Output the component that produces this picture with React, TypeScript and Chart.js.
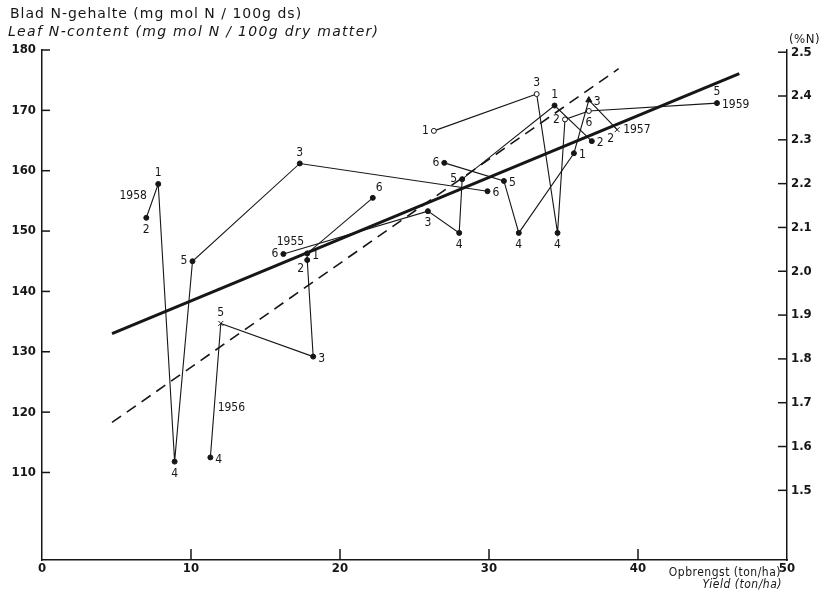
import React, { useEffect, useRef } from 'react';
import { Chart, registerables } from 'chart.js';

Chart.register(...registerables);

// ---------- DATA (points of each year, joined in order of increasing yield) ----------
const years = ['1955', '1956', '1957', '1958', '1959'];

const treat1955 = ['6', '3', '4', '5', '1', '2'];
const yield1955 = [16.2, 25.9, 28.0, 28.2, 34.4, 36.9];
const n1955 = [146.2, 153.3, 149.7, 158.6, 170.8, 164.9];

const treat1956 = ['4', '5', '3', '2', '1', '6'];
const yield1956 = [11.3, 12.0, 18.2, 17.8, 17.8, 22.2];
const n1956 = [112.5, 134.7, 129.2, 145.2, 146.3, 155.5];

const treat1957 = ['6', '5', '4', '1', '3', '2'];
const yield1957 = [27.0, 31.0, 32.0, 35.7, 36.7, 38.6];
const n1957 = [161.3, 158.3, 149.7, 162.9, 171.7, 166.8];

const treat1958 = ['2', '1', '4', '5', '3', '6'];
const yield1958 = [7.0, 7.8, 8.9, 10.1, 17.3, 29.9];
const n1958 = [152.2, 157.8, 111.8, 145.0, 161.2, 156.6];

const treat1959 = ['1', '3', '4', '2', '6', '5'];
const yield1959 = [26.3, 33.2, 34.6, 35.1, 36.7, 45.3];
const n1959 = [166.6, 172.7, 149.7, 168.5, 169.9, 171.2];

// regression lines (end points)
const solidFitYield = [4.7, 46.8];
const solidFitN = [133.0, 176.1];
const dashedFitYield = [4.7, 38.7];
const dashedFitN = [118.3, 176.9];

// axis ticks
const xTicks = [0, 10, 20, 30, 40, 50];
const leftTicks = [110, 120, 130, 140, 150, 160, 170, 180];
const rightTicks = [1.5, 1.6, 1.7, 1.8, 1.9, 2.0, 2.1, 2.2, 2.3, 2.4, 2.5];

// ---------- STYLE (markers and label placement) ----------
const marker1955 = ['dot', 'dot', 'dot', 'dot', 'dot', 'dot'];
const marker1956 = ['dot', 'cross', 'dot', 'dot', 'dot', 'dot'];
const marker1957 = ['dot', 'dot', 'dot', 'dot', 'tri', 'cross'];
const marker1958 = ['dot', 'dot', 'dot', 'dot', 'dot', 'dot'];
const marker1959 = ['open', 'open', 'dot', 'open', 'open', 'dot'];

const side1955 = ['l', 'b', 'b', 'l', 'a', 'r'];
const side1956 = ['r', 'a', 'r', 'bl', 'r', 'ar'];
const side1957 = ['l', 'r', 'b', 'r', 'r', 'bl'];
const side1958 = ['b', 'a', 'b', 'l', 'a', 'r'];
const side1959 = ['l', 'a', 'b', 'l', 'b', 'a'];

// year label: anchor index in the series, offset, alignment
const yearAnchor = [0, 0, 5, 1, 5];
const yearDx = [7, 21, 6, -25, 5];
const yearDy = [-12, -50, 0, 12, 2];
const yearAlign: CanvasTextAlign[] = ['center', 'center', 'left', 'center', 'left'];

const INK = '#161616';
const FONT = '"DejaVu Sans Condensed", "DejaVu Sans", sans-serif';
const WIDE = '"DejaVu Sans", sans-serif';

const seriesYield = [yield1955, yield1956, yield1957, yield1958, yield1959];
const seriesN = [n1955, n1956, n1957, n1958, n1959];
const seriesTreat = [treat1955, treat1956, treat1957, treat1958, treat1959];
const seriesMarker = [marker1955, marker1956, marker1957, marker1958, marker1959];
const seriesSide = [side1955, side1956, side1957, side1958, side1959];

function styleOf(m: string) {
  if (m === 'cross') return { ps: 'crossRot', r: 3.5, bg: INK };
  if (m === 'tri') return { ps: 'triangle', r: 3.5, bg: INK };
  if (m === 'open') return { ps: 'circle', r: 2.5, bg: '#ffffff' };
  return { ps: 'circle', r: 2.5, bg: INK };
}

const annotPlugin = {
  id: 'annot',
  afterDraw(chart: any) {
    const ctx: CanvasRenderingContext2D = chart.ctx;
    const xs = chart.scales.x;
    const ys = chart.scales.y;
    const y2 = chart.scales.y2;
    ctx.save();
    ctx.strokeStyle = INK;
    ctx.fillStyle = INK;
    ctx.lineWidth = 1.5;
    const seg = (a: number, b: number, c: number, d: number) => {
      ctx.beginPath();
      ctx.moveTo(a, b);
      ctx.lineTo(c, d);
      ctx.stroke();
    };
    // inward tick marks
    xTicks.forEach((v) => {
      if (v === xTicks[0] || v === xTicks[xTicks.length - 1]) return;
      const px = xs.getPixelForValue(v);
      seg(px, xs.top, px, xs.top - 11);
    });
    leftTicks.forEach((v) => {
      const py = ys.getPixelForValue(v);
      seg(ys.right, py, ys.right + 8, py);
    });
    rightTicks.forEach((v) => {
      const py = y2.getPixelForValue(v);
      seg(y2.left, py, y2.left - 9, py);
    });

    // point labels
    ctx.font = `12px ${FONT}`;
    seriesYield.forEach((yv, s) => {
      yv.forEach((xv, i) => {
        const px = xs.getPixelForValue(xv);
        const py = ys.getPixelForValue(seriesN[s][i]);
        const side = seriesSide[s][i];
        let dx = 0, dy = 0;
        let align: CanvasTextAlign = 'center';
        if (side === 'a') { dy = -11; }
        else if (side === 'b') { dy = 12; }
        else if (side === 'l') { dx = -5; align = 'right'; }
        else if (side === 'r') { dx = 5; align = 'left'; dy = 2; }
        else if (side === 'bl') { dx = -3; dy = 9; align = 'right'; }
        else if (side === 'ar') { dx = 3; dy = -10; align = 'left'; }
        ctx.textAlign = align;
        ctx.textBaseline = 'middle';
        ctx.fillText(seriesTreat[s][i], px + dx, py + dy);
      });
    });

    // year labels
    years.forEach((yr, s) => {
      const k = yearAnchor[s];
      const px = xs.getPixelForValue(seriesYield[s][k]);
      const py = ys.getPixelForValue(seriesN[s][k]);
      ctx.textAlign = yearAlign[s];
      ctx.textBaseline = 'middle';
      ctx.fillText(yr, px + yearDx[s], py + yearDy[s]);
    });

    // titles
    ctx.textBaseline = 'middle';
    ctx.textAlign = 'left';
    (ctx as any).letterSpacing = '1px';
    ctx.font = `14px ${WIDE}`;
    ctx.fillText('Blad N-gehalte (mg mol N / 100g ds)', 10, 14);
    (ctx as any).letterSpacing = '1.3px';
    ctx.font = `italic 14px ${WIDE}`;
    ctx.fillText('Leaf N-content (mg mol N / 100g dry matter)', 8, 32);
    (ctx as any).letterSpacing = '0.5px';
    ctx.font = `13px ${FONT}`;
    ctx.fillText('(%N)', 789, 40);
    ctx.textAlign = 'right';
    ctx.font = `12px ${FONT}`;
    ctx.fillText('Opbrengst (ton/ha)', 781, 573);
    ctx.font = `italic 12px ${FONT}`;
    ctx.fillText('Yield (ton/ha)', 782, 585);
    (ctx as any).letterSpacing = '0px';
    ctx.restore();
  },
};

export default function App() {
  const ref = useRef<HTMLCanvasElement | null>(null);
  useEffect(() => {
    document.body.style.margin = '0';
    const canvas = ref.current;
    if (!canvas) return;

    const datasets: any[] = seriesYield.map((yv, s) => {
      const st = seriesMarker[s].map(styleOf);
      return {
        label: years[s],
        data: yv.map((x, i) => ({ x, y: seriesN[s][i] })),
        showLine: true,
        borderColor: INK,
        borderWidth: 1.1,
        pointStyle: st.map((o) => o.ps),
        pointRadius: st.map((o) => o.r),
        pointBackgroundColor: st.map((o) => o.bg),
        pointBorderColor: INK,
        pointBorderWidth: 1,
        yAxisID: 'y',
      };
    });
    datasets.push({
      label: 'fit',
      data: solidFitYield.map((x, i) => ({ x, y: solidFitN[i] })),
      showLine: true,
      borderColor: INK,
      borderWidth: 3,
      pointRadius: 0,
      yAxisID: 'y',
    });
    datasets.push({
      label: 'fit2',
      data: dashedFitYield.map((x, i) => ({ x, y: dashedFitN[i] })),
      showLine: true,
      borderColor: INK,
      borderWidth: 1.6,
      borderDash: [11, 7],
      pointRadius: 0,
      yAxisID: 'y',
    });

    const tickFont = { family: FONT, size: 13, weight: 'bold' as const };
    const chart = new Chart(canvas, {
      type: 'scatter',
      data: { datasets },
      plugins: [annotPlugin],
      options: {
        animation: false,
        responsive: false,
        devicePixelRatio: 1,
        layout: { padding: { top: 50, left: 0, right: 0, bottom: 0 } },
        plugins: { legend: { display: false }, tooltip: { enabled: false }, title: { display: false } },
        scales: {
          x: {
            type: 'linear',
            position: 'bottom',
            min: 0,
            max: 50,
            grid: { display: false, drawTicks: false },
            border: { display: true, color: INK, width: 1.5 },
            ticks: { color: INK, font: tickFont, padding: 1, maxRotation: 0 },
            afterBuildTicks: (s: any) => { s.ticks = xTicks.map((v) => ({ value: v })); },
            afterFit: (s: any) => { s.height = 31; },
          },
          y: {
            type: 'linear',
            position: 'left',
            min: 95.5,
            max: 180,
            grid: { display: false, drawTicks: false },
            border: { display: true, color: INK, width: 1.5 },
            ticks: { color: INK, font: tickFont, padding: 6 },
            afterBuildTicks: (s: any) => { s.ticks = leftTicks.map((v) => ({ value: v })); },
            afterFit: (s: any) => { s.width = 42; },
          },
          y2: {
            type: 'linear',
            position: 'right',
            min: 1.341,
            max: 2.505,
            grid: { display: false, drawTicks: false },
            border: { display: true, color: INK, width: 1.5 },
            ticks: {
              color: INK,
              font: tickFont,
              padding: 4,
              callback: (v: any) => Number(v).toFixed(1),
            },
            afterBuildTicks: (s: any) => { s.ticks = rightTicks.map((v) => ({ value: v })); },
            afterFit: (s: any) => { s.width = 42; },
          },
        },
      },
    });
    return () => chart.destroy();
  }, []);

  return (
    <div style={{ width: 829, height: 591, position: 'relative', background: '#fff' }}>
      <canvas ref={ref} width={829} height={591} style={{ width: 829, height: 591, display: 'block' }} />
    </div>
  );
}
